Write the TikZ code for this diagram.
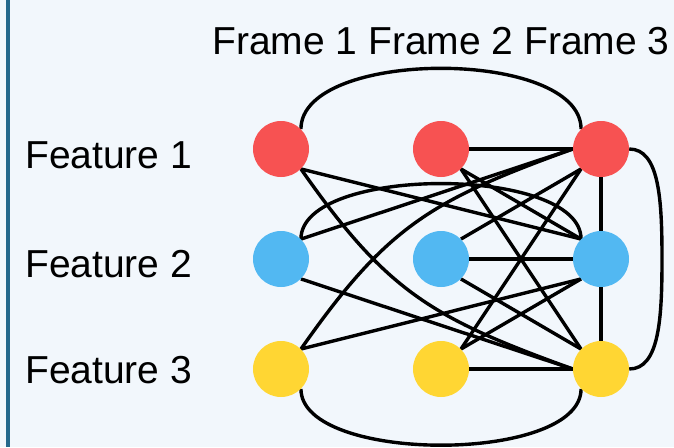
\documentclass[tikz,border=0pt]{standalone}
\usepackage{fontspec}
\setmainfont{Liberation Sans}
\definecolor{bgc}{RGB}{242,247,252}
\definecolor{rulec}{RGB}{36,104,140}
\definecolor{redc}{RGB}{247,82,82}
\definecolor{bluec}{RGB}{82,184,242}
\definecolor{yelc}{RGB}{255,214,51}
\pgfdeclarelayer{back}
\pgfdeclarelayer{links}
\pgfsetlayers{back,links,main}
\begin{document}
\begin{tikzpicture}[x=1pt,y=-1pt,
  dot/.style={circle,minimum size=56pt,inner sep=0pt,draw=none},
  link/.style={line width=3.4pt,black},
  lbl/.style={font=\fontsize{39}{45}\selectfont,inner sep=0pt,text=black}]
\useasboundingbox (0,0) rectangle (674,447);
\begin{pgfonlayer}{back}
  \fill[bgc] (0,0) rectangle (674,447);
  \draw[rulec,line width=3.5pt] (8,0) -- (8,447);
\end{pgfonlayer}

% nodes
\node[dot,fill=redc]  (a1) at (281,149) {};
\node[dot,fill=bluec] (a2) at (281,259) {};
\node[dot,fill=yelc]  (a3) at (281,369) {};
\node[dot,fill=redc]  (b1) at (441,149) {};
\node[dot,fill=bluec] (b2) at (441,259) {};
\node[dot,fill=yelc]  (b3) at (441,369) {};
\node[dot,fill=redc]  (c1) at (601,149) {};
\node[dot,fill=bluec] (c2) at (601,259) {};
\node[dot,fill=yelc]  (c3) at (601,369) {};

% labels
\node[lbl,anchor=base west] (f1) at (25,168) {Feature 1};
\node[lbl,anchor=base west] (f2) at (25,277) {Feature 2};
\node[lbl,anchor=base west] (f3) at (25,383) {Feature 3};
\node[lbl,anchor=base] (fr) at (441,54) {Frame 1 Frame 2 Frame 3};

\coordinate (rmid) at (662,259);

\begin{pgfonlayer}{links}
  % arcs
  \draw[link] (a1.north east) .. controls +(0,-81) and +(0,-81) .. (c1.north west);
  \draw[link] (a2.north east) .. controls +(0,-74) and +(0,-74) .. (c2.north west);
  \draw[link] (a3.south east) .. controls +(0,75) and +(0,75) .. (c3.south west);
  \draw[link] (c1.east) .. controls +(30,0) and +(0,-60) .. (rmid)
                        .. controls +(0,60) and +(30,0) .. (c3.east);
  % curves
  \draw[link] (a1.south east) .. controls +(86,123) and +(-141,-51) .. (c3.west);
  \draw[link] (a3.north east) .. controls +(86,-123) and +(-141,51) .. (c1.west);
  % straight links
  \draw[link] (b1.east) -- (c1.west);
  \draw[link] (b2.east) -- (c2.west);
  \draw[link] (b3.east) -- (c3.west);
  \draw[link] (c1.south) -- (c2.north);
  \draw[link] (c2.south) -- (c3.north);
  \draw[link] (a1.south east) -- (c2.north west);
  \draw[link] (b1.south east) -- (c2.north west);
  \draw[link] (b1.south east) -- (c3.north west);
  \draw[link] (a2.north east) -- (c1.west);
  \draw[link] (b2.north east) -- (c1.south west);
  \draw[link] (b3.north east) -- (c1.south west);
  \draw[link] (b2.south east) -- (c3.north west);
  \draw[link] (a2.south east) -- (c3.west);
  \draw[link] (a3.north east) -- (c2.south west);
  \draw[link] (b3.north east) -- (c2.south west);
\end{pgfonlayer}
\end{tikzpicture}
\end{document}
